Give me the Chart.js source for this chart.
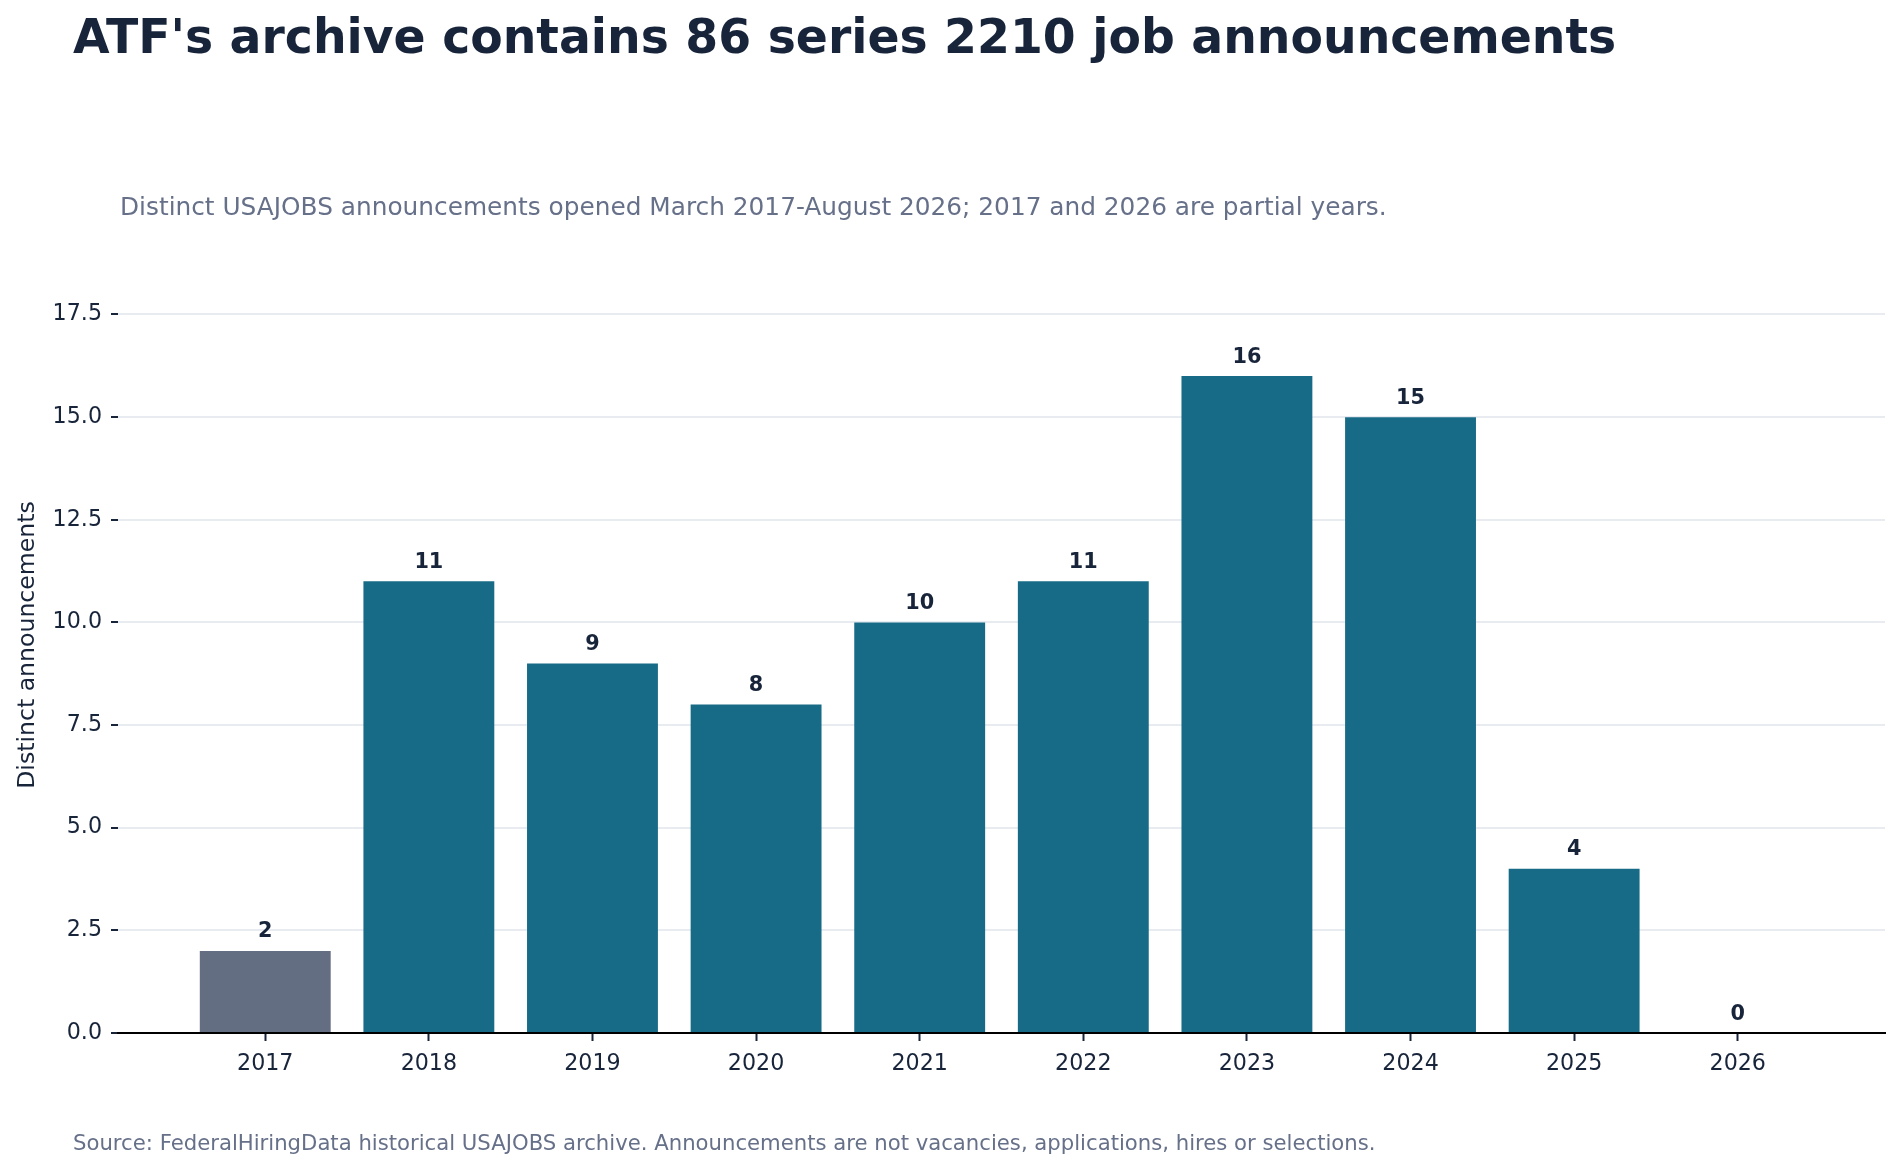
<!DOCTYPE html>
<html>
<head>
<meta charset="utf-8">
<script src="https://cdn.jsdelivr.net/npm/chart.js@4/dist/chart.umd.min.js"></script>
<style>
  html, body { margin: 0; padding: 0; background: #ffffff; }
  #wrap { width: 1900px; height: 1170px; position: relative; }
</style>
</head>
<body>
<div id="wrap"><canvas id="c" width="1900" height="1170"></canvas></div>
<script>
// ---- data ----
const categories = ['2017','2018','2019','2020','2021','2022','2023','2024','2025','2026'];
const announcements = [2, 11, 9, 8, 10, 11, 16, 15, 4, 0];
const yTickValues = [0, 2.5, 5, 7.5, 10, 12.5, 15, 17.5];
const titleText = "ATF's archive contains 86 series 2210 job announcements";
const subtitleText = "Distinct USAJOBS announcements opened March 2017-August 2026; 2017 and 2026 are partial years.";
const sourceText = "Source: FederalHiringData historical USAJOBS archive. Announcements are not vacancies, applications, hires or selections.";
const yAxisTitle = "Distinct announcements";

// ---- styles ----
const DARK = '#17243a';
const MUTED = '#667089';
const TEAL = '#186b87';
const GREY = '#646e82';
const FONT = "'DejaVu Sans', sans-serif";

const textPlugin = {
  id: 'texts',
  afterDraw(chart) {
    const ctx = chart.ctx;
    ctx.save();
    ctx.textAlign = 'left';
    ctx.textBaseline = 'alphabetic';
    ctx.fillStyle = DARK;
    ctx.font = "bold 47.3px " + FONT;
    ctx.fillText(titleText, 73, 53);
    ctx.fillStyle = MUTED;
    ctx.font = "24.8px " + FONT;
    ctx.fillText(subtitleText, 120, 215);
    ctx.font = "21.2px " + FONT;
    ctx.fillText(sourceText, 73, 1150);
    ctx.restore();
  }
};

const labelPlugin = {
  id: 'barLabels',
  afterDatasetsDraw(chart) {
    const ctx = chart.ctx;
    const meta = chart.getDatasetMeta(0);
    ctx.save();
    ctx.font = "bold 20.8px " + FONT;
    ctx.fillStyle = DARK;
    ctx.textAlign = 'center';
    ctx.textBaseline = 'alphabetic';
    meta.data.forEach((bar, i) => {
      ctx.fillText(String(announcements[i]), bar.x, bar.y - 13.5);
    });
    ctx.restore();
  }
};

new Chart(document.getElementById('c'), {
  type: 'bar',
  data: {
    datasets: [{
      data: announcements.map((v, i) => ({ x: i, y: v })),
      backgroundColor: (c) => c.dataIndex === 0 ? GREY : TEAL,
      borderWidth: 0,
      categoryPercentage: 1.0,
      barPercentage: 0.8
    }]
  },
  options: {
    responsive: false,
    animation: false,
    devicePixelRatio: 1,
    layout: { padding: { top: 257, right: 15, left: 0, bottom: 0 } },
    plugins: { legend: { display: false }, tooltip: { enabled: false }, title: { display: false } },
    scales: {
      x: {
        type: 'linear',
        min: -0.9,
        max: 9.9,
        offset: false,
        afterBuildTicks: (s) => { s.ticks = categories.map((c, i) => ({ value: i })); },
        afterFit: (s) => { s.height = 137; },
        ticks: {
          callback: (v) => categories[v],
          color: DARK,
          font: { family: FONT, size: 22.2 },
          padding: 9.5,
          maxRotation: 0,
          autoSkip: false
        },
        grid: { offset: false, drawOnChartArea: false, drawTicks: true, tickLength: 8, tickColor: DARK, tickWidth: 2 },
        border: { display: true, color: '#000000', width: 2 }
      },
      y: {
        min: 0,
        max: 18.9,
        afterBuildTicks: (s) => { s.ticks = yTickValues.map(v => ({ value: v })); },
        afterFit: (s) => { s.width = 118; },
        ticks: {
          callback: (v) => v.toFixed(1),
          color: DARK,
          font: { family: FONT, size: 22.2 },
          padding: 9
        },
        grid: { color: '#e8ecf1', lineWidth: 2, drawTicks: true, tickLength: 7, tickColor: DARK, tickWidth: 2 },
        border: { display: false },
        title: {
          display: true,
          text: yAxisTitle,
          color: DARK,
          font: { family: FONT, size: 23.6 },
          padding: { top: 14, bottom: 0 }
        }
      }
    }
  },
  plugins: [textPlugin, labelPlugin]
});
</script>
</body>
</html>
